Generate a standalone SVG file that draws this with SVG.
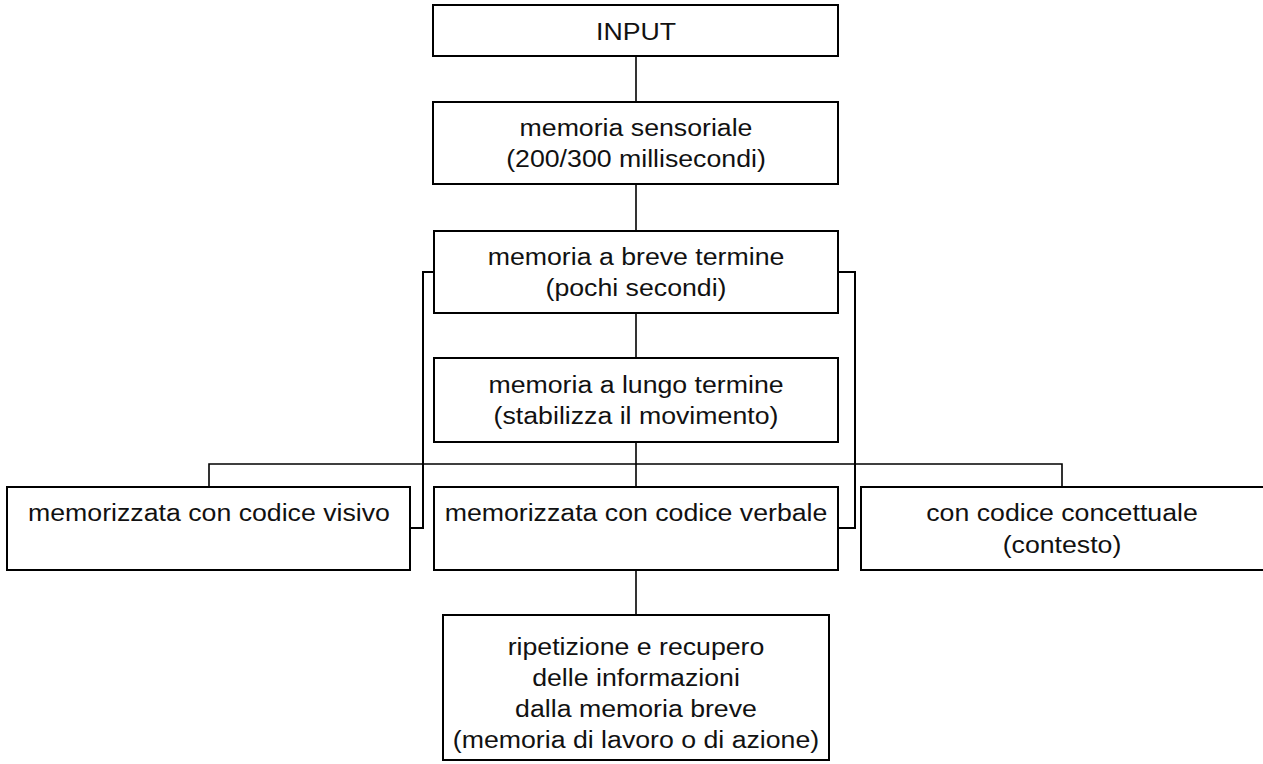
<svg xmlns="http://www.w3.org/2000/svg" width="1263" height="764" viewBox="0 0 1263 764">
  <style>
    .box { fill: #ffffff; stroke: #000000; stroke-width: 2; }
    .wire { fill: none; stroke: #000000; stroke-width: 1.6; }
    .loop { fill: none; stroke: #000000; stroke-width: 2; }
    .lbl { font-family: "Liberation Sans", Arial, sans-serif; font-size: 24.5px; fill: #111111; text-anchor: middle; }
  </style>
  <rect width="1263" height="764" fill="#ffffff"/>

  <!-- connectors -->
  <g id="connectors">
    <line class="wire" x1="636" y1="56" x2="636" y2="102"/>
    <line class="wire" x1="636" y1="184" x2="636" y2="231"/>
    <line class="wire" x1="636" y1="313" x2="636" y2="358"/>
    <line class="wire" x1="636" y1="442" x2="636" y2="487"/>
    <polyline class="wire" points="209,487 209,464 1062,464 1062,487"/>
    <line class="wire" x1="636" y1="570" x2="636" y2="615"/>
    <polyline class="loop" points="434,272 423,272 423,528 411,528"/>
    <polyline class="loop" points="838,272 855,272 855,528 838,528"/>
  </g>

  <g id="input">
    <rect class="box" x="433" y="5" width="405" height="51"/>
    <text class="lbl" transform="matrix(1.09 0 0 1 636 40)">INPUT</text>
  </g>

  <g id="sensoriale">
    <rect class="box" x="433" y="102" width="405" height="82"/>
    <text class="lbl" transform="matrix(1.09 0 0 1 636 136)">memoria sensoriale</text>
    <text class="lbl" transform="matrix(1.09 0 0 1 636 167)">(200/300 millisecondi)</text>
  </g>

  <g id="breve">
    <rect class="box" x="434" y="231" width="404" height="82"/>
    <text class="lbl" transform="matrix(1.09 0 0 1 636 265)">memoria a breve termine</text>
    <text class="lbl" transform="matrix(1.09 0 0 1 636 296)">(pochi secondi)</text>
  </g>

  <g id="lungo">
    <rect class="box" x="434" y="358" width="404" height="84"/>
    <text class="lbl" transform="matrix(1.09 0 0 1 636 393)">memoria a lungo termine</text>
    <text class="lbl" transform="matrix(1.09 0 0 1 636 424)">(stabilizza il movimento)</text>
  </g>

  <g id="visivo">
    <rect class="box" x="7" y="487" width="403" height="83"/>
    <text class="lbl" transform="matrix(1.09 0 0 1 209 521)">memorizzata con codice visivo</text>
  </g>

  <g id="verbale">
    <rect class="box" x="434" y="487" width="404" height="83"/>
    <text class="lbl" transform="matrix(1.09 0 0 1 636 521)">memorizzata con codice verbale</text>
  </g>

  <g id="concettuale">
    <rect class="box" x="861" y="487" width="406" height="83"/>
    <text class="lbl" transform="matrix(1.09 0 0 1 1062 521)">con codice concettuale</text>
    <text class="lbl" transform="matrix(1.09 0 0 1 1062 553)">(contesto)</text>
  </g>

  <g id="ripetizione">
    <rect class="box" x="443" y="615" width="386" height="145"/>
    <text class="lbl" transform="matrix(1.09 0 0 1 636 655)">ripetizione e recupero</text>
    <text class="lbl" transform="matrix(1.09 0 0 1 636 686)">delle informazioni</text>
    <text class="lbl" transform="matrix(1.09 0 0 1 636 717)">dalla memoria breve</text>
    <text class="lbl" transform="matrix(1.09 0 0 1 636 748)">(memoria di lavoro o di azione)</text>
  </g>
</svg>
